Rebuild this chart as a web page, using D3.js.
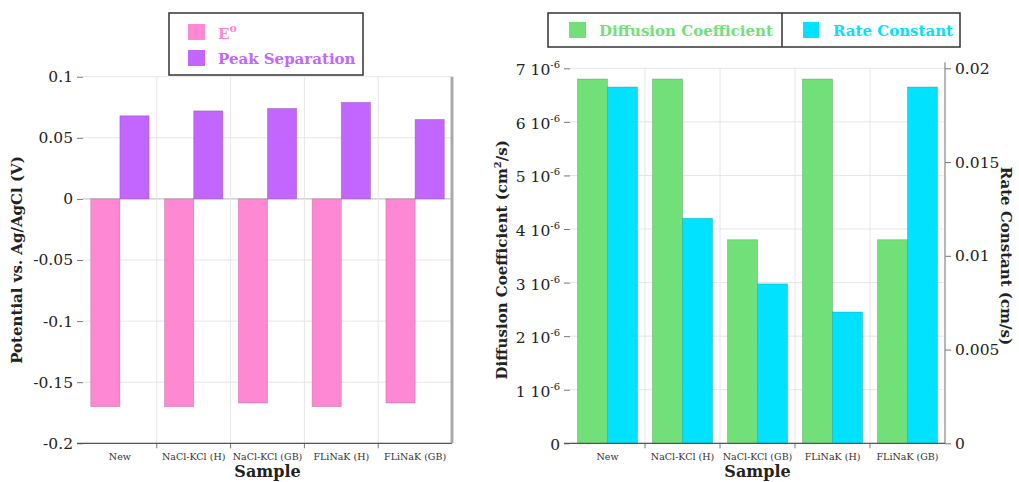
<!DOCTYPE html>
<html>
<head>
<meta charset="utf-8">
<script src="https://cdn.jsdelivr.net/npm/d3@7"></script>
<style>
  html, body { margin: 0; padding: 0; background: #fff; }
  svg { display: block; }
  text { font-family: "DejaVu Serif", serif; }
</style>
</head>
<body>
<svg id="chart" width="1019" height="482"></svg>
<script>
// Samples shared by both panels
const samples = ["New", "NaCl-KCl (H)", "NaCl-KCl (GB)", "FLiNaK (H)", "FLiNaK (GB)"];

// Left panel: potentials (V vs. Ag/AgCl)
const eZero = [-0.170, -0.170, -0.167, -0.170, -0.167];
const peakSeparation = [0.068, 0.072, 0.074, 0.079, 0.065];
const potentialTicks = [0.1, 0.05, 0, -0.05, -0.1, -0.15, -0.2];

// Right panel: transport / kinetics
const diffusion = [6.8e-6, 6.8e-6, 3.8e-6, 6.8e-6, 3.8e-6];   // cm^2/s
const rateConstant = [0.019, 0.012, 0.0085, 0.007, 0.019];    // cm/s
const diffusionTicks = [0, 1e-6, 2e-6, 3e-6, 4e-6, 5e-6, 6e-6, 7e-6];
const rateTicks = [0, 0.005, 0.01, 0.015, 0.02];

const colors = {
  pink: "#ff88d3",
  purple: "#c266ff",
  green: "#72e078",
  cyan: "#00e2ff"
};

const svg = d3.select("#chart");
const gridColor = "#e6e6e6";
const axisColor = "#777";

function styleAxis(g) {
  g.select(".domain").remove();
  g.selectAll(".tick line").attr("stroke", axisColor);
  g.selectAll(".tick text").attr("fill", "#222");
}

// plain hyphen for negatives, trimmed decimals
const plainNum = d => d === 0 ? "0" : String(+d.toFixed(3));

// ---------------- Left panel ----------------
(function () {
  const x0 = 83, x1 = 452, yTop = 76.7, yBot = 443.3;
  const x = d3.scaleBand().domain(samples).range([x0, x1]).padding(0);
  const y = d3.scaleLinear().domain([-0.2, 0.1]).range([yBot, yTop]);
  const groupW = x.bandwidth() * 0.79;
  const barW = groupW / 2;

  const g = svg.append("g");

  // gridlines
  g.selectAll("line.hgrid").data(potentialTicks).join("line")
    .attr("x1", x0).attr("x2", x1)
    .attr("y1", d => y(d)).attr("y2", d => y(d))
    .attr("stroke", d => d === 0 ? "#bbb" : gridColor).attr("stroke-width", 1);
  g.selectAll("line.vgrid").data(samples.slice(1)).join("line")
    .attr("x1", d => x(d)).attr("x2", d => x(d))
    .attr("y1", yTop).attr("y2", yBot)
    .attr("stroke", gridColor);

  // bars
  const bar = (vals, offset, color) => g.append("g").selectAll("rect")
    .data(vals).join("rect")
    .attr("x", (d, i) => x(samples[i]) + (x.bandwidth() - groupW) / 2 + offset)
    .attr("width", barW)
    .attr("y", d => y(Math.max(0, d)))
    .attr("height", d => Math.abs(y(d) - y(0)))
    .attr("fill", color)
    .attr("stroke", d3.color(color).darker(1.2))
    .attr("stroke-opacity", 0.45)
    .attr("stroke-width", 0.8);
  bar(eZero, 0, colors.pink);
  bar(peakSeparation, barW, colors.purple);

  // axes
  const ya = g.append("g").attr("transform", `translate(${x0},0)`)
    .call(d3.axisLeft(y).tickValues(potentialTicks).tickSize(6).tickPadding(4)
      .tickFormat(plainNum))
    .call(styleAxis);
  ya.selectAll(".tick text").attr("font-size", 15.5);

  const xa = g.append("g").attr("transform", `translate(0,${yBot})`)
    .call(d3.axisBottom(x).tickSize(0).tickPadding(10))
    .call(styleAxis);
  xa.selectAll(".tick text").attr("font-size", 9.5).attr("fill", "#333");
  g.selectAll("line.xtick").data(samples.slice(1)).join("line")
    .attr("x1", d => x(d)).attr("x2", d => x(d))
    .attr("y1", yBot).attr("y2", yBot + 5).attr("stroke", axisColor);

  g.append("line").attr("x1", x0 - 6).attr("x2", x1).attr("y1", yBot).attr("y2", yBot)
    .attr("stroke", "#555").attr("stroke-width", 1.2);
  g.append("line").attr("x1", x1).attr("x2", x1).attr("y1", yTop).attr("y2", yBot)
    .attr("stroke", "#aaa").attr("stroke-width", 3);

  // titles
  g.append("text").attr("x", (x0 + x1) / 2).attr("y", 477)
    .attr("text-anchor", "middle").attr("font-weight", "bold").attr("font-size", 16)
    .attr("fill", "#222").text("Sample");
  g.append("text").attr("transform", `translate(22,${(yTop + yBot) / 2}) rotate(-90)`)
    .attr("text-anchor", "middle").attr("font-weight", "bold").attr("font-size", 15)
    .attr("fill", "#222").text("Potential vs. Ag/AgCl (V)");

  // legend
  const lg = g.append("g");
  lg.append("rect").attr("x", 169).attr("y", 13).attr("width", 194).attr("height", 62)
    .attr("fill", "#fff").attr("stroke", "#333").attr("stroke-width", 1.5);
  [[colors.pink, 24], [colors.purple, 50]].forEach(([c, yy]) => {
    lg.append("rect").attr("x", 188).attr("y", yy).attr("width", 17).attr("height", 16).attr("fill", c);
  });
  const t1 = lg.append("text").attr("x", 218).attr("y", 39).attr("font-weight", "bold")
    .attr("font-size", 15).attr("fill", colors.pink);
  t1.append("tspan").text("E");
  t1.append("tspan").attr("dy", -7).attr("font-size", 11).text("o");
  lg.append("text").attr("x", 218).attr("y", 64).attr("font-weight", "bold")
    .attr("font-size", 15).attr("fill", colors.purple).text("Peak Separation");
})();

// ---------------- Right panel ----------------
(function () {
  const x0 = 570, x1 = 945, yTop = 68.3, yBot = 443.3;
  const x = d3.scaleBand().domain(samples).range([x0, x1]).padding(0);
  const yL = d3.scaleLinear().domain([0, 7e-6]).range([yBot, yTop]);
  const yR = d3.scaleLinear().domain([0, 0.02]).range([yBot, yTop]);
  const groupW = x.bandwidth() * 0.8;
  const barW = groupW / 2;

  const g = svg.append("g");

  g.selectAll("line.hgrid").data(diffusionTicks).join("line")
    .attr("x1", x0).attr("x2", x1)
    .attr("y1", d => yL(d)).attr("y2", d => yL(d))
    .attr("stroke", gridColor);
  g.selectAll("line.vgrid").data(samples.slice(1)).join("line")
    .attr("x1", d => x(d)).attr("x2", d => x(d))
    .attr("y1", yTop).attr("y2", yBot)
    .attr("stroke", gridColor);

  const bar = (vals, scale, offset, color) => g.append("g").selectAll("rect")
    .data(vals).join("rect")
    .attr("x", (d, i) => x(samples[i]) + (x.bandwidth() - groupW) / 2 + offset)
    .attr("width", barW)
    .attr("y", d => scale(d))
    .attr("height", d => scale(0) - scale(d))
    .attr("fill", color)
    .attr("stroke", d3.color(color).darker(1.2))
    .attr("stroke-opacity", 0.45)
    .attr("stroke-width", 0.8);
  bar(diffusion, yL, 0, colors.green);
  bar(rateConstant, yR, barW, colors.cyan);

  // left axis with "n 10^-6" labels
  const la = g.append("g").attr("transform", `translate(${x0},0)`)
    .call(d3.axisLeft(yL).tickValues(diffusionTicks).tickSize(6).tickPadding(4).tickFormat(() => ""))
    .call(styleAxis);
  la.selectAll(".tick text").each(function (d) {
    const t = d3.select(this).attr("font-size", 15.5).attr("dy", "0.42em");
    const n = Math.round(d * 1e6);
    if (n === 0) { t.text("0"); return; }
    t.append("tspan").text(n + " 10");
    t.append("tspan").attr("dy", -7).attr("font-size", 10).text("-6");
  });

  // right axis
  const ra = g.append("g").attr("transform", `translate(${x1},0)`)
    .call(d3.axisRight(yR).tickValues(rateTicks).tickSize(6).tickPadding(4)
      .tickFormat(plainNum))
    .call(styleAxis);
  ra.selectAll(".tick text").attr("font-size", 15.5);
  g.append("line").attr("x1", x1).attr("x2", x1).attr("y1", yTop - 6).attr("y2", yBot)
    .attr("stroke", "#888").attr("stroke-width", 1.2);

  const xa = g.append("g").attr("transform", `translate(0,${yBot})`)
    .call(d3.axisBottom(x).tickSize(0).tickPadding(10))
    .call(styleAxis);
  xa.selectAll(".tick text").attr("font-size", 9.5).attr("fill", "#333");
  g.selectAll("line.xtick").data(samples.slice(1)).join("line")
    .attr("x1", d => x(d)).attr("x2", d => x(d))
    .attr("y1", yBot).attr("y2", yBot + 5).attr("stroke", axisColor);
  g.append("line").attr("x1", x0 - 6).attr("x2", x1).attr("y1", yBot).attr("y2", yBot)
    .attr("stroke", "#555").attr("stroke-width", 1.2);

  // titles
  g.append("text").attr("x", (x0 + x1) / 2).attr("y", 477)
    .attr("text-anchor", "middle").attr("font-weight", "bold").attr("font-size", 16)
    .attr("fill", "#222").text("Sample");
  const lt = g.append("text").attr("transform", `translate(507,${(yTop + yBot) / 2 + 4}) rotate(-90)`)
    .attr("text-anchor", "middle").attr("font-weight", "bold").attr("font-size", 15)
    .attr("fill", "#222");
  lt.append("tspan").text("Diffusion Coefficient (cm");
  lt.append("tspan").attr("dy", -6).attr("font-size", 10).text("2");
  lt.append("tspan").attr("dy", 6).text("/s)");
  g.append("text").attr("transform", `translate(1001,${(yTop + yBot) / 2}) rotate(90)`)
    .attr("text-anchor", "middle").attr("font-weight", "bold").attr("font-size", 15)
    .attr("fill", "#222").text("Rate Constant (cm/s)");

  // legend
  const lg = g.append("g");
  lg.append("rect").attr("x", 548).attr("y", 13).attr("width", 412).attr("height", 34)
    .attr("fill", "#fff").attr("stroke", "#333").attr("stroke-width", 1.5);
  lg.append("line").attr("x1", 782).attr("x2", 782).attr("y1", 13).attr("y2", 47)
    .attr("stroke", "#333").attr("stroke-width", 1.5);
  lg.append("rect").attr("x", 569).attr("y", 22).attr("width", 17).attr("height", 16).attr("fill", colors.green);
  lg.append("rect").attr("x", 803).attr("y", 22).attr("width", 16).attr("height", 16).attr("fill", colors.cyan);
  lg.append("text").attr("x", 599).attr("y", 36).attr("font-weight", "bold").attr("font-size", 15)
    .attr("fill", colors.green).text("Diffusion Coefficient");
  lg.append("text").attr("x", 833).attr("y", 36).attr("font-weight", "bold").attr("font-size", 15)
    .attr("fill", colors.cyan).text("Rate Constant");
})();
</script>
</body>
</html>
